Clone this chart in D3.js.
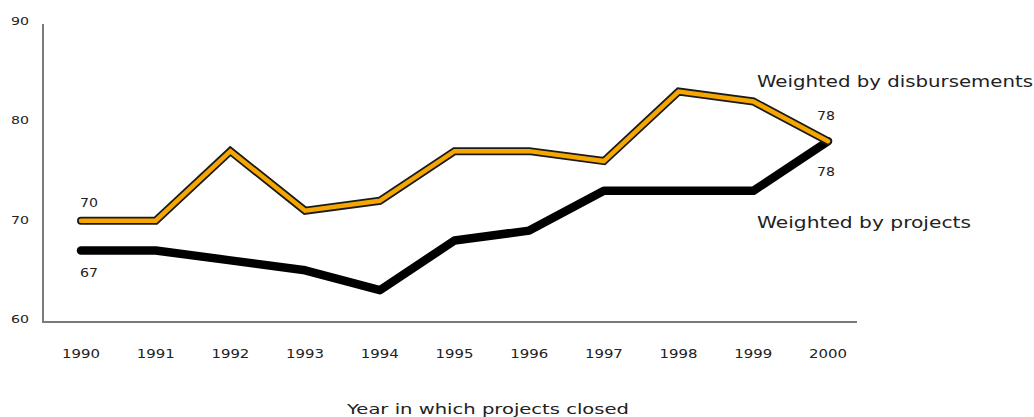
<!DOCTYPE html>
<html lang="en">
<head>
    <meta charset="UTF-8">
    <title>Outcome ratings</title>
    <script src="https://d3js.org/d3.v7.min.js"></script>
    <style>
        body { margin: 0; background: #fff; }
        text { font-family: "DejaVu Sans", "Open Sans", sans-serif; fill: #222; }
    </style>
</head>
<body>
    <script>
        var width = 1034, height = 417;

        // data
        var years = [1990, 1991, 1992, 1993, 1994, 1995, 1996, 1997, 1998, 1999, 2000];
        var disbursements = [70, 70, 77, 71, 72, 77, 77, 76, 83, 82, 78];
        var projects = [67, 67, 66, 65, 63, 68, 69, 73, 73, 73, 78];
        var yTicks = [60, 70, 80, 90];

        var svg = d3.select('body').append('svg')
            .attr('width', width).attr('height', height);

        var x = d3.scaleLinear().domain([1990, 2000]).range([81, 828]);
        var y = d3.scaleLinear().domain([60, 90]).range([320, 22]);

        // axes
        svg.append('line')
            .attr('x1', 43).attr('x2', 43).attr('y1', 24).attr('y2', 322)
            .attr('stroke', '#7a7a7a').attr('stroke-width', 2);
        svg.append('line')
            .attr('x1', 42).attr('x2', 857).attr('y1', 322).attr('y2', 322)
            .attr('stroke', '#7a7a7a').attr('stroke-width', 2);

        svg.selectAll('.ytick').data(yTicks).join('text')
            .attr('class', 'ytick')
            .attr('x', 29).attr('y', function (d) { return y(d) + 3; })
            .attr('text-anchor', 'end')
            .attr('textLength', 18).attr('lengthAdjust', 'spacingAndGlyphs')
            .style('font-size', '11px')
            .text(function (d) { return d; });

        svg.selectAll('.xtick').data(years).join('text')
            .attr('class', 'xtick')
            .attr('x', function (d) { return x(d) - 19; }).attr('y', 358)
            .attr('textLength', 38).attr('lengthAdjust', 'spacingAndGlyphs')
            .style('font-size', '11.5px')
            .text(function (d) { return d; });

        svg.append('text')
            .attr('x', 347).attr('y', 414)
            .attr('textLength', 282).attr('lengthAdjust', 'spacingAndGlyphs')
            .style('font-size', '14px')
            .text('Year in which projects closed');

        var line = d3.line()
            .x(function (d, i) { return x(years[i]); })
            .y(function (d) { return y(d); });

        // projects line (black)
        svg.append('path').datum(projects)
            .attr('d', line).attr('fill', 'none')
            .attr('stroke', '#000').attr('stroke-width', 8.5)
            .attr('stroke-linejoin', 'round').attr('stroke-linecap', 'round');

        // disbursements line (orange with dark outline)
        svg.append('path').datum(disbursements)
            .attr('d', line).attr('fill', 'none')
            .attr('stroke', '#1a1a1a').attr('stroke-width', 8)
            .attr('stroke-linejoin', 'miter').attr('stroke-linecap', 'round');
        svg.append('path').datum(disbursements)
            .attr('d', line).attr('fill', 'none')
            .attr('stroke', '#f5a600').attr('stroke-width', 4.5)
            .attr('stroke-linejoin', 'miter').attr('stroke-linecap', 'round');

        // value labels
        var n = years.length - 1;
        var labels = [
            { v: disbursements[0], x: x(years[0]) + 8, y: y(disbursements[0]) - 14 },
            { v: projects[0], x: x(years[0]) + 8, y: y(projects[0]) + 27 },
            { v: disbursements[n], x: x(years[n]) - 2, y: y(disbursements[n]) - 21 },
            { v: projects[n], x: x(years[n]) - 2, y: y(projects[n]) + 35 }
        ];
        svg.selectAll('.vlabel').data(labels).join('text')
            .attr('class', 'vlabel')
            .attr('x', function (d) { return d.x - 9; }).attr('y', function (d) { return d.y; })
            .attr('textLength', 18).attr('lengthAdjust', 'spacingAndGlyphs')
            .style('font-size', '11.5px')
            .text(function (d) { return d.v; });

        svg.append('text')
            .attr('x', 757).attr('y', 87)
            .attr('textLength', 276).attr('lengthAdjust', 'spacingAndGlyphs')
            .style('font-size', '15px')
            .text('Weighted by disbursements');
        svg.append('text')
            .attr('x', 757).attr('y', 228)
            .attr('textLength', 214).attr('lengthAdjust', 'spacingAndGlyphs')
            .style('font-size', '15px')
            .text('Weighted by projects');
    </script>
</body>
</html>
